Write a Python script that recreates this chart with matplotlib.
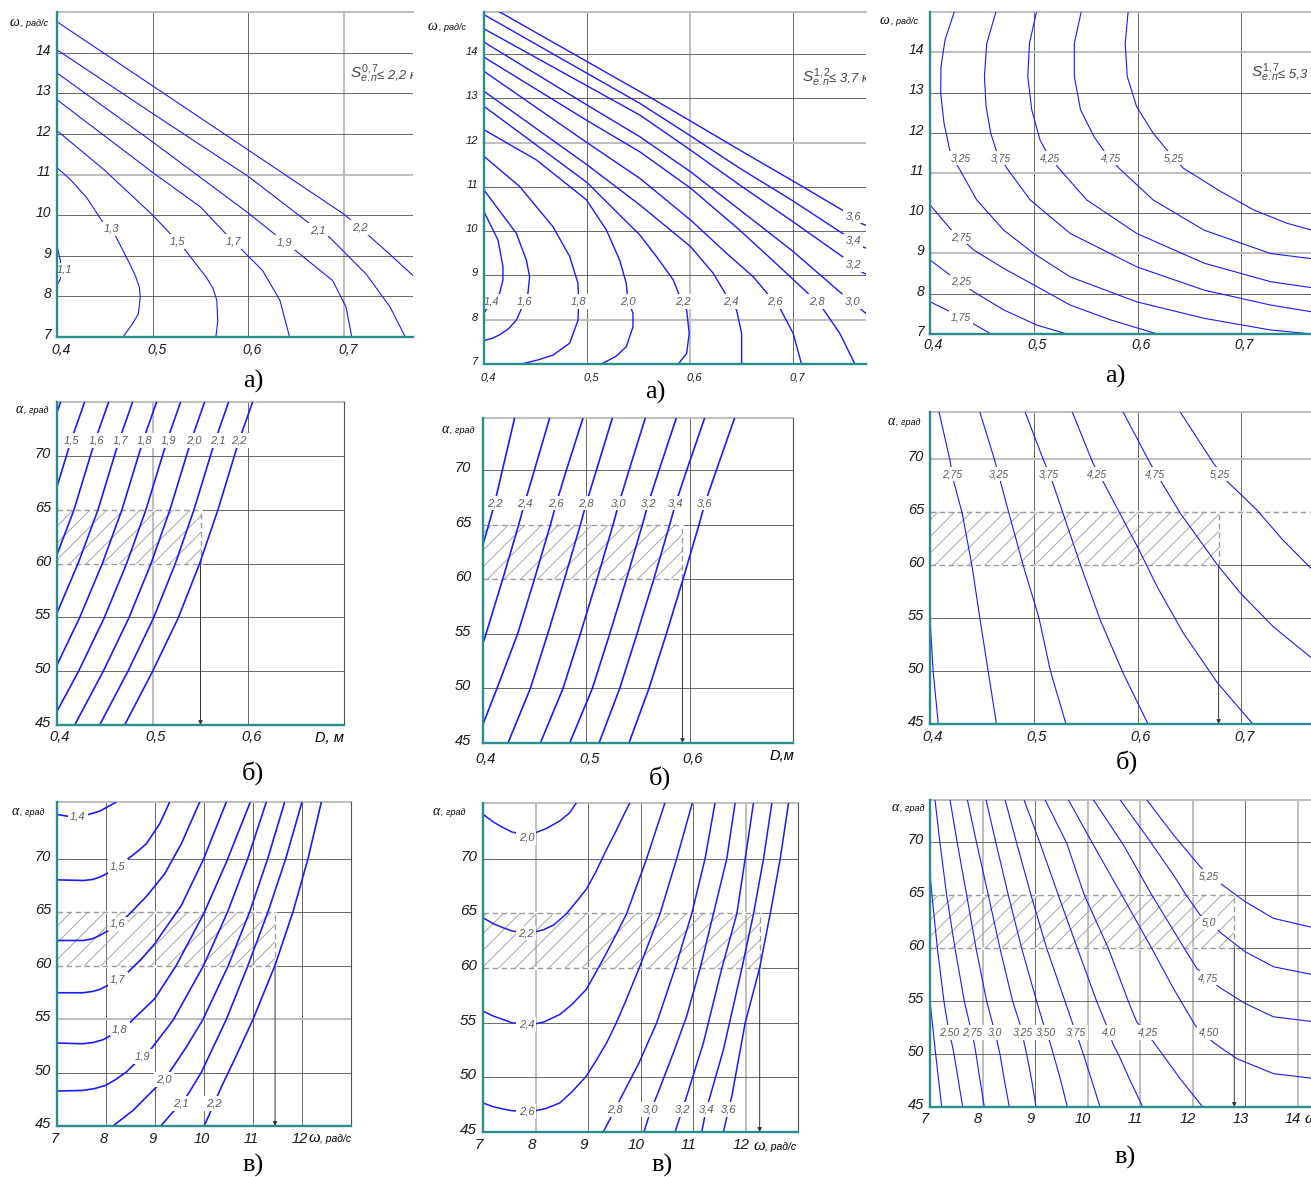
import matplotlib.pyplot as plt
from matplotlib.patches import Rectangle
from matplotlib.transforms import blended_transform_factory, Affine2D

W, H = 1311, 1177
BLUE = '#1a1aff'
TEAL = '#2a8c8c'
DARK = '#505050'
LIGHT = '#bfbfbf'
HATCH = '#9a9a9a'
TICK_FONT = ['Liberation Sans', 'DejaVu Sans']
LABEL_FONT = ['Liberation Sans Narrow', 'Liberation Sans', 'DejaVu Sans']
SERIF = ['Liberation Serif', 'DejaVu Serif']

plt.rcParams['hatch.linewidth'] = 0.6
plt.rcParams['hatch.color'] = HATCH
plt.rcParams['mathtext.fontset'] = 'custom'
plt.rcParams['mathtext.it'] = 'Liberation Sans:italic'
plt.rcParams['mathtext.rm'] = 'Liberation Sans'

# ---- shared ticks
d_ticks = [0.4, 0.5, 0.6, 0.7]
d_tick_labels = ['0,4', '0,5', '0,6', '0,7']
w_ticks = [7, 8, 9, 10, 11, 12, 13, 14]
w_tick_labels = ['7', '8', '9', '10', '11', '12', '13', '14']
a_ticks = [45, 50, 55, 60, 65, 70]
a_tick_labels = ['45', '50', '55', '60', '65', '70']

# ---- panel 1: omega(D), S <= 2,2
p1_levels = ['1,1', '1,3', '1,5', '1,7', '1,9', '2,1', '2,2']
p1_x = [
    [0.4, 0.4035, 0.4045, 0.4035, 0.4],
    [0.4, 0.415, 0.431, 0.448, 0.457, 0.462, 0.476, 0.482, 0.486, 0.487, 0.485, 0.479, 0.469],
    [0.4, 0.45, 0.5, 0.526, 0.533, 0.556, 0.563, 0.567, 0.568, 0.566],
    [0.4, 0.5, 0.55, 0.584, 0.591, 0.615, 0.633, 0.643],
    [0.4, 0.5, 0.6, 0.638, 0.647, 0.688, 0.702, 0.708],
    [0.4, 0.5, 0.6, 0.673, 0.685, 0.723, 0.748, 0.764],
    [0.4, 0.5, 0.6, 0.7, 0.716, 0.74, 0.775],
]
p1_y = [
    [9.25, 8.88, 8.63, 8.43, 8.27],
    [11.17, 10.85, 10.43, 9.82, 9.66, 9.45, 8.8, 8.5, 8.23, 7.98, 7.57, 7.33, 7.0],
    [12.08, 11.1, 10.0, 9.35, 9.17, 8.47, 8.2, 7.9, 7.4, 7.0],
    [12.84, 11.05, 10.2, 9.35, 9.2, 8.63, 7.9, 7.0],
    [13.5, 11.8, 10.05, 9.33, 9.17, 8.39, 7.74, 7.0],
    [14.07, 12.5, 10.95, 9.63, 9.45, 8.55, 7.74, 7.0],
    [14.76, 13.18, 11.6, 10.02, 9.7, 9.2, 8.45],
]
p1_lab_x = [0.4075, 0.457, 0.526, 0.584, 0.638, 0.673, 0.716]
p1_lab_y = [8.65, 9.66, 9.35, 9.35, 9.33, 9.63, 9.70]

# ---- panel 2: omega(D), S <= 3,7
p2_levels = ['1,4', '1,6', '1,8', '2,0', '2,2', '2,4', '2,6', '2,8', '3,0', '3,2', '3,4', '3,6']
p2_x = [
    [0.4, 0.4136, 0.4184, 0.4184, 0.4152, 0.4071, 0.4],
    [0.4, 0.4314, 0.4411, 0.4443, 0.4427, 0.4395, 0.4314, 0.424, 0.4152, 0.408, 0.4],
    [0.4, 0.4346, 0.467, 0.4832, 0.4913, 0.4919, 0.4913, 0.4832, 0.467, 0.452, 0.4362],
    [0.4, 0.4508, 0.4994, 0.5188, 0.5317, 0.5382, 0.5398, 0.5447, 0.5447, 0.5382, 0.528, 0.5139],
    [0.4, 0.5, 0.5515, 0.5677, 0.5838, 0.5903, 0.5929, 0.5968, 0.5993, 0.5968, 0.5887],
    [0.4, 0.5, 0.5515, 0.6007, 0.6226, 0.6362, 0.6395, 0.6453, 0.6502, 0.6502],
    [0.4, 0.5, 0.5515, 0.6007, 0.6356, 0.6615, 0.6777, 0.6825, 0.6874, 0.7003, 0.7084],
    [0.4, 0.5, 0.5515, 0.6007, 0.6485, 0.6906, 0.7181, 0.723, 0.7288, 0.7456, 0.7602],
    [0.4, 0.5, 0.5515, 0.6007, 0.6485, 0.7003, 0.7489, 0.7576, 0.765, 0.775],
    [0.4, 0.5515, 0.6007, 0.6485, 0.7003, 0.7521, 0.7586, 0.7667, 0.775],
    [0.4, 0.5515, 0.6007, 0.6485, 0.7003, 0.7521, 0.7586, 0.7667, 0.775],
    [0.41, 0.566, 0.6007, 0.6485, 0.7003, 0.7521, 0.7586, 0.7667, 0.775],
]
p2_y = [
    [10.44, 9.80, 9.20, 8.90, 8.60, 8.41, 8.15],
    [10.93, 9.95, 9.35, 8.97, 8.60, 8.41, 7.99, 7.80, 7.66, 7.58, 7.53],
    [11.69, 11.01, 10.10, 9.43, 8.82, 8.41, 7.99, 7.47, 7.20, 7.09, 7.0],
    [12.29, 11.61, 10.71, 10.03, 9.35, 8.82, 8.41, 8.15, 7.84, 7.39, 7.17, 7.0],
    [12.82, 11.1, 9.91, 9.42, 8.90, 8.52, 8.41, 8.22, 7.69, 7.24, 7.0],
    [13.16, 11.5, 10.59, 9.65, 9.05, 8.52, 8.41, 8.22, 7.69, 7.0],
    [13.61, 12.0, 11.19, 10.25, 9.50, 8.97, 8.52, 8.41, 8.26, 7.69, 7.0],
    [13.93, 12.5, 11.79, 10.97, 10.02, 9.12, 8.52, 8.41, 8.26, 7.69, 7.0],
    [14.27, 12.85, 12.13, 11.34, 10.48, 9.54, 8.56, 8.41, 8.26, 8.06],
    [14.57, 12.62, 11.83, 11.04, 10.21, 9.36, 9.25, 9.08, 8.98],
    [14.89, 12.885, 12.15, 11.42, 10.68, 9.89, 9.78, 9.65, 9.59],
    [15.02, 12.96, 12.485, 11.83, 11.13, 10.42, 10.34, 10.17, 10.10],
]
p2_lab_x = [0.407, 0.4395, 0.492, 0.5398, 0.5929, 0.6395, 0.6825, 0.723, 0.7576, 0.7586, 0.7586, 0.7586]
p2_lab_y = [8.41, 8.41, 8.41, 8.41, 8.41, 8.41, 8.41, 8.41, 8.41, 9.25, 9.78, 10.34]

# ---- panel 3: omega(D), S <= 5,3
p3_levels = ['1,75', '2,25', '2,75', '3,25', '3,75', '4,25', '4,75', '5,25']
p3_x = [
    [0.4, 0.419, 0.442, 0.459],
    [0.4, 0.419, 0.442, 0.471, 0.503, 0.532],
    [0.4, 0.419, 0.442, 0.471, 0.5, 0.535, 0.574, 0.619],
    [0.424, 0.4145, 0.4106, 0.4103, 0.4135, 0.419, 0.427, 0.445, 0.471, 0.5, 0.535, 0.599, 0.664, 0.728, 0.768],
    [0.464, 0.4547, 0.4524, 0.454, 0.4585, 0.4637, 0.474, 0.4965, 0.535, 0.599, 0.664, 0.728, 0.768],
    [0.503, 0.4958, 0.4942, 0.498, 0.506, 0.512, 0.524, 0.551, 0.599, 0.664, 0.728, 0.768],
    [0.546, 0.539, 0.539, 0.545, 0.558, 0.567, 0.582, 0.615, 0.664, 0.728, 0.768],
    [0.591, 0.588, 0.590, 0.599, 0.615, 0.627, 0.644, 0.680, 0.712, 0.744, 0.768],
]
p3_y = [
    [7.80, 7.56, 7.25, 7.0],
    [8.84, 8.47, 8.05, 7.60, 7.22, 7.0],
    [10.21, 9.63, 9.09, 8.63, 8.22, 7.72, 7.35, 7.0],
    [15.05, 14.31, 13.64, 12.98, 12.24, 11.57, 11.16, 10.33, 9.58, 9.0, 8.42, 7.80, 7.39, 7.10, 7.0],
    [15.05, 14.22, 13.40, 12.65, 11.99, 11.57, 11.12, 10.33, 9.50, 8.67, 8.09, 7.72, 7.55],
    [15.05, 14.22, 13.40, 12.57, 11.82, 11.53, 11.12, 10.33, 9.50, 8.76, 8.30, 8.15],
    [15.05, 14.22, 13.40, 12.57, 11.90, 11.57, 11.12, 10.33, 9.58, 9.0, 8.87],
    [15.05, 14.22, 13.40, 12.65, 11.99, 11.61, 11.12, 10.54, 10.08, 9.75, 9.58],
]
p3_lab_x = [0.430, 0.430, 0.430, 0.4295, 0.4685, 0.5158, 0.574, 0.635]
p3_lab_y = [7.41, 8.30, 9.40, 11.37, 11.37, 11.37, 11.37, 11.37]

# ---- panel 4: alpha(D), S <= 2,2
p4_levels = [None, '1,5', '1,6', '1,7', '1,8', '1,9', '2,0', '2,1', '2,2']
p4_x = [
    [0.4042, 0.3895, 0.3676],
    [0.4293, 0.4146, 0.3927, 0.371],
    [0.4544, 0.4397, 0.4178, 0.3965, 0.3718],
    [0.4794, 0.4648, 0.4429, 0.4220, 0.3976, 0.3711],
    [0.5045, 0.4899, 0.4679, 0.4474, 0.4233, 0.3969, 0.3662],
    [0.5296, 0.5150, 0.4930, 0.4728, 0.4491, 0.4226, 0.3923],
    [0.5547, 0.5401, 0.5181, 0.4983, 0.4749, 0.4484, 0.4185],
    [0.5798, 0.5652, 0.5432, 0.5237, 0.5007, 0.4742, 0.4446],
    [0.6049, 0.5902, 0.5683, 0.5491, 0.5265, 0.5000, 0.4707],
]
p4_y = [
    [75.1, 71.4, 65.0],
    [75.1, 71.4, 65.0, 60.0],
    [75.1, 71.4, 65.0, 60.0, 54.9],
    [75.1, 71.4, 65.0, 60.0, 54.9, 50.0],
    [75.1, 71.4, 65.0, 60.0, 54.9, 50.0, 45.0],
    [75.1, 71.4, 65.0, 60.0, 54.9, 50.0, 45.0],
    [75.1, 71.4, 65.0, 60.0, 54.9, 50.0, 45.0],
    [75.1, 71.4, 65.0, 60.0, 54.9, 50.0, 45.0],
    [75.1, 71.4, 65.0, 60.0, 54.9, 50.0, 45.0],
]
p4_lab_x = [None, 0.415, 0.441, 0.466, 0.4916, 0.517, 0.543, 0.568, 0.590]
p4_lab_y = [None, 71.44, 71.44, 71.44, 71.44, 71.44, 71.44, 71.44, 71.44]
p4_zone = [0.4, 0.55]

# ---- panel 5: alpha(D), S <= 3,7
p5_levels = ['2,2', '2,4', '2,6', '2,8', '3,0', '3,2', '3,4', '3,6']
p5_alpha = [74.8, 70.0, 67.0, 65.0, 60.0, 55.0, 50.0, 45.0]
p5_x = [
    [0.4306, 0.4187, 0.4113, 0.4055, 0.3900, 0.3739, 0.3571, 0.3365],
    [0.4645, 0.4497, 0.4403, 0.4345, 0.4190, 0.4029, 0.3861, 0.3655],
    [0.4968, 0.4806, 0.4710, 0.4652, 0.4497, 0.4335, 0.4135, 0.3929],
    [0.5252, 0.5097, 0.5000, 0.4942, 0.4787, 0.4626, 0.4458, 0.4242],
    [0.5571, 0.5413, 0.5316, 0.5258, 0.5103, 0.4942, 0.4774, 0.4555],
    [0.5871, 0.5703, 0.5600, 0.5542, 0.5387, 0.5226, 0.5058, 0.4839],
    [0.6145, 0.5971, 0.5865, 0.5806, 0.5652, 0.5490, 0.5323, 0.5123],
    [0.6435, 0.6258, 0.6148, 0.6090, 0.5935, 0.5774, 0.5606, 0.5413],
]
p5_lab_x = [0.4113, 0.4403, 0.4710, 0.5000, 0.5316, 0.5600, 0.5865, 0.6148]
p5_lab_y = [67.0, 67.0, 67.0, 67.0, 67.0, 67.0, 67.0, 67.0]
p5_zone = [0.4, 0.593]

# ---- panel 6: alpha(D), S <= 5,3
p6_levels = [None, '2,75', '3,25', '3,75', '4,25', '4,75', '5,25']
p6_x = [
    [0.399, 0.4, 0.403, 0.408],
    [0.4087, 0.419, 0.423, 0.431, 0.4405, 0.448, 0.456, 0.464],
    [0.448, 0.462, 0.468, 0.476, 0.490, 0.505, 0.516, 0.531],
    [0.4916, 0.509, 0.518, 0.545, 0.564, 0.586, 0.610],
    [0.537, 0.557, 0.567, 0.600, 0.619, 0.644, 0.677, 0.711],
    [0.586, 0.612, 0.623, 0.641, 0.677, 0.699, 0.731, 0.768],
    [0.641, 0.673, 0.687, 0.715, 0.740, 0.768],
]
p6_y = [
    [56.0, 55.0, 50.0, 45.0],
    [74.45, 70.0, 67.83, 64.9, 59.9, 55.0, 50.0, 45.0],
    [74.45, 70.0, 67.83, 64.9, 59.9, 55.0, 50.0, 45.0],
    [74.45, 70.0, 67.83, 60.0, 54.81, 49.81, 45.0],
    [74.45, 69.62, 67.83, 61.70, 57.92, 53.58, 48.87, 45.0],
    [74.45, 69.62, 67.83, 64.9, 60.0, 57.36, 54.15, 51.2],
    [74.45, 69.62, 67.83, 65.19, 62.36, 59.6],
]
p6_lab_x = [None, 0.421, 0.466, 0.514, 0.561, 0.617, 0.679]
p6_lab_y = [None, 68.58, 68.58, 68.58, 68.58, 68.58, 68.58]
p6_zone = [0.4, 0.678]

# ---- panel 7: alpha(omega), S <= 2,2
p7_levels = ['1,4', '1,5', '1,6', '1,7', '1,8', '1,9', '2,0', '2,1', '2,2']
p7_x = [
    [7.0, 7.259, 7.429, 7.565, 7.871, 8.211],
    [7.0, 7.531, 7.72, 7.871, 8.06, 8.245, 8.449, 8.65, 8.823, 9.095, 9.299],
    [7.0, 7.531, 7.72, 7.871, 8.06, 8.245, 8.449, 8.823, 9.197, 9.537, 9.912],
    [7.0, 7.531, 7.72, 7.871, 8.06, 8.245, 8.449, 8.72, 8.993, 9.537, 9.993, 10.456],
    [7.0, 7.531, 7.75, 7.939, 8.11, 8.279, 8.483, 8.993, 9.435, 9.993, 10.456, 10.946],
    [7.0, 7.531, 7.77, 7.993, 8.2, 8.415, 8.741, 8.925, 9.367, 9.993, 10.483, 10.891, 11.272],
    [8.143, 8.551, 8.959, 9.184, 9.299, 9.639, 9.980, 10.497, 10.932, 11.299, 11.646],
    [9.116, 9.367, 9.537, 9.639, 9.946, 10.456, 10.898, 11.306, 11.667, 12.0],
    [10.0, 10.102, 10.204, 10.354, 10.646, 11.0, 11.449, 11.816, 12.122, 12.395],
]
p7_y = [
    [74.13, 73.94, 73.94, 74.03, 74.44, 75.3],
    [68.02, 67.96, 68.05, 68.27, 68.7, 69.27, 69.98, 70.7, 71.39, 73.26, 75.3],
    [62.35, 62.35, 62.5, 62.82, 63.3, 63.91, 64.69, 66.46, 68.58, 71.39, 75.3],
    [57.46, 57.46, 57.58, 57.77, 58.2, 58.68, 59.39, 60.6, 62.04, 65.62, 69.98, 75.3],
    [52.76, 52.69, 52.82, 53.07, 53.5, 54.07, 54.66, 56.90, 60.02, 64.84, 69.67, 75.3],
    [48.27, 48.33, 48.5, 48.80, 49.35, 50.05, 51.51, 52.23, 54.88, 60.02, 65.03, 69.98, 75.3],
    [45.0, 46.46, 48.33, 49.33, 50.05, 52.38, 54.97, 60.02, 65.03, 69.98, 75.3],
    [45.0, 46.31, 47.09, 47.71, 50.02, 54.97, 60.02, 65.03, 69.98, 75.3],
    [45.0, 46.0, 47.09, 48.64, 51.45, 54.97, 60.02, 65.03, 69.98, 75.3],
]
p7_lab_x = [7.429, 8.245, 8.245, 8.245, 8.279, 8.741, 9.184, 9.537, 10.204]
p7_lab_y = [73.94, 69.27, 63.91, 58.68, 54.07, 51.51, 49.33, 47.09, 47.09]
p7_zone = [7.0, 11.45]

# ---- panel 8: alpha(omega), S <= 3,7
p8_levels = ['2,0', '2,2', '2,4', '2,6', '2,8', '3,0', '3,2', '3,4', '3,6']
p8_x = [
    [7.0, 7.2, 7.382, 7.55, 7.75, 7.95, 8.2, 8.463, 8.65, 8.781],
    [7.0, 7.2, 7.382, 7.55, 7.75, 7.95, 8.15, 8.35, 8.59, 8.8, 8.966, 9.15, 9.354, 9.52, 9.672, 9.799],
    [7.0, 7.2, 7.382, 7.55, 7.75, 7.95, 8.15, 8.463, 8.7, 8.966, 9.15, 9.354, 9.55, 9.735, 10.117, 10.467],
    [7.0, 7.2, 7.382, 7.55, 7.75, 7.95, 8.2, 8.463, 8.7, 8.966, 9.15, 9.354, 9.53, 9.704, 9.971, 10.372, 10.69, 10.989],
    [9.290, 9.513, 9.608, 9.971, 10.308, 10.658, 10.976, 11.230, 11.421],
    [10.066, 10.200, 10.308, 10.626, 10.880, 11.135, 11.389, 11.644, 11.803],
    [10.658, 10.798, 10.880, 11.198, 11.548, 11.835, 11.994, 12.153],
    [11.167, 11.249, 11.326, 11.580, 11.930, 12.153, 12.344, 12.503],
    [11.580, 11.676, 11.739, 11.994, 12.267, 12.471, 12.662, 12.821],
]
p8_y = [
    [74.07, 73.35, 72.85, 72.45, 72.25, 72.3, 72.75, 73.46, 74.2, 75.14],
    [64.6, 64.05, 63.69, 63.4, 63.25, 63.25, 63.5, 63.95, 64.97, 66.2, 67.2, 68.8, 70.86, 72.4, 73.92, 75.14],
    [56.05, 55.6, 55.29, 55.0, 54.85, 54.85, 55.05, 55.75, 56.7, 58.04, 59.6, 61.4, 63.2, 64.97, 70.01, 75.14],
    [47.66, 47.3, 47.1, 46.95, 46.88, 46.9, 47.15, 47.66, 48.7, 50.10, 51.5, 53.15, 54.9, 56.82, 59.96, 64.97, 70.01, 75.14],
    [45.0, 47.05, 47.96, 51.32, 54.98, 59.96, 64.97, 70.01, 75.14],
    [45.0, 47.05, 48.27, 52.24, 55.60, 59.96, 64.97, 70.01, 75.14],
    [45.0, 47.05, 48.27, 53.15, 59.96, 64.97, 70.01, 75.14],
    [45.0, 47.05, 48.27, 52.54, 59.96, 64.97, 70.01, 75.14],
    [45.0, 47.05, 48.27, 54.98, 59.96, 64.97, 70.01, 75.14],
]
p8_lab_x = [7.827, 7.814, 7.827, 7.827, 9.513, 10.200, 10.798, 11.249, 11.676]
p8_lab_y = [71.93, 63.2, 54.83, 46.89, 47.05, 47.05, 47.05, 47.05, 47.05]
p8_zone = [7.0, 12.27]

# ---- panel 9: alpha(omega), S <= 5,3
p9_levels = [None, '2,50', '2,75', '3,0', '3,25', '3,50', '3,75', '4,0', '4,25', '4,50', '4,75', '5,0', '5,25']
p9_rows = [74.02, 69.92, 65.0, 59.98, 54.97, 52.03, 51.09, 49.98, 47.52, 45.0]
p9_x = [
    [6.905, 7.0, 7.108, 7.222],
    [6.99, 7.0, 7.038, 7.140, 7.266, 7.362, 7.412, 7.457, 7.539, 7.622],
    [7.095, 7.190, 7.317, 7.476, 7.654, 7.793, 7.838, 7.876, 7.952, 8.034],
    [7.381, 7.520, 7.698, 7.876, 8.079, 8.237, 8.282, 8.332, 8.415, 8.510],
    [7.711, 7.888, 8.110, 8.332, 8.574, 8.764, 8.789, 8.840, 8.935, 9.018],
    [8.066, 8.256, 8.491, 8.745, 9.030, 9.208, 9.284, 9.348, 9.487, 9.614],
    [8.428, 8.650, 8.923, 9.221, 9.570, 9.773, 9.843, 9.919, 10.077, 10.236],
    [8.789, 9.094, 9.443, 9.805, 10.173, 10.414, 10.477, 10.585, 10.807, 11.048],
    [9.189, 9.602, 9.938, 10.395, 10.775, 10.934, 11.093, 11.251, 11.759, 12.190],
    [9.633, 10.109, 10.649, 11.220, 11.632, 12.044, 12.216, 12.393, 12.838, 13.536, 14.26],
    [10.109, 10.680, 11.220, 11.841, 12.076, 12.298, 12.520, 12.996, 13.536, 14.26],
    [10.617, 11.124, 11.632, 11.873, 12.140, 12.362, 12.520, 12.996, 13.536, 14.26],
    [11.124, 11.632, 12.140, 12.330, 12.520, 12.996, 13.536, 14.26],
]
p9_y = [
    [59.98, 54.97, 49.98, 45.0],
    [68.0, 67.08, 65.0, 59.98, 54.97, 52.03, 51.09, 49.98, 47.52, 45.0],
    p9_rows, p9_rows, p9_rows, p9_rows, p9_rows,
    [74.02, 69.92, 65.0, 59.98, 54.97, 52.03, 50.99, 49.98, 47.52, 45.0],
    [74.02, 69.92, 65.0, 59.98, 54.97, 53.04, 52.1, 51.15, 47.68, 45.0],
    [74.02, 69.76, 65.03, 59.98, 56.20, 52.73, 51.91, 51.09, 49.57, 48.15, 47.72],
    [74.02, 69.76, 65.03, 59.98, 58.09, 57.15, 56.26, 54.78, 53.52, 53.08],
    [74.02, 70.55, 66.92, 65.03, 63.14, 62.35, 61.50, 59.67, 58.25, 57.52],
    [74.02, 70.71, 67.71, 66.77, 66.14, 64.40, 62.82, 61.98],
]
p9_lab_x = [None, 7.362, 7.793, 8.237, 8.764, 9.208, 9.773, 10.414, 11.15, 12.317, 12.298, 12.317, 12.298]
p9_lab_y = [None, 52.03, 52.03, 52.03, 52.03, 52.03, 52.03, 52.03, 52.03, 52.03, 57.15, 62.41, 66.77]
p9_zone = [7.0, 12.79]

fig = plt.figure(figsize=(W / 100, H / 100), dpi=100)
fig.patch.set_facecolor('white')


def axes_at(l, t, r, b):
    return fig.add_axes([l / W, 1 - b / H, (r - l) / W, (b - t) / H])


def px_text(px, py, s, **kw):
    fig.text(px / W, 1 - py / H, s, **kw)


def frame(ax, xlim, ylim, xgrid, ygrid, light=(), right=False):
    ax.set_xlim(xlim)
    ax.set_ylim(ylim)
    ax.set_xticks([])
    ax.set_yticks([])
    ax.spines[['top', 'right']].set_visible(False)
    for side in ('left', 'bottom'):
        ax.spines[side].set_color(TEAL)
        ax.spines[side].set_linewidth(1.7)
        ax.spines[side].set_zorder(6)
    for v in xgrid:
        lt = ('x', v) in light
        ax.axvline(v, color=LIGHT if lt else DARK, lw=1.5 if lt else 0.6, zorder=1)
    for v in ygrid:
        lt = ('y', v) in light
        ax.axhline(v, color=LIGHT if lt else DARK, lw=1.5 if lt else 0.6, zorder=1)
    ax.axhline(ylim[1], color=LIGHT, lw=1.5, zorder=1, clip_on=False)
    if right:
        ax.axvline(xlim[1], color=DARK, lw=0.8, zorder=1, clip_on=False)


def tick_text(ax, xs, xl, ys, yl, size, dx=3, xgap=6, ygap=6):
    tx = blended_transform_factory(ax.transData, ax.transAxes) + Affine2D().translate(dx, -xgap)
    for v, s in zip(xs, xl):
        ax.text(v, 0, s, transform=tx, ha='center', va='top', fontsize=size,
                style='italic', family=TICK_FONT, color='#1a1a1a', clip_on=False)
    ty = blended_transform_factory(ax.transAxes, ax.transData) + Affine2D().translate(-ygap, 2)
    for v, s in zip(ys, yl):
        ax.text(0, v, s, transform=ty, ha='right', va='center', fontsize=size,
                style='italic', family=TICK_FONT, color='#1a1a1a', clip_on=False)


def draw_curves(ax, xs, ys, levels, lx, ly, lw, size=8):
    for x, y in zip(xs, ys):
        ax.plot(x, y, color=BLUE, lw=lw, zorder=3, solid_capstyle='butt')
    for s, x, y in zip(levels, lx, ly):
        if s is None:
            continue
        ax.text(x, y, s, ha='center', va='center', fontsize=size, style='italic',
                color='#5a5a5a', family=LABEL_FONT, zorder=4,
                bbox=dict(boxstyle='square,pad=0.2', fc='white', ec='none'))


def zone(ax, x0, x1, y0=60, y1=65, ext=None):
    dash = (0, (4, 2.5))
    ax.plot([x0, x1], [y0, y0], color='white', lw=2, zorder=1.5)
    ax.plot([x0, x1], [y1, y1], color='white', lw=2, zorder=1.5)
    ax.add_patch(Rectangle((x0, y0), x1 - x0, y1 - y0, fill=False, hatch='//',
                           edgecolor=HATCH, lw=0, zorder=2))
    ax.plot([x0, x1], [y0, y0], ls=dash, color=HATCH, lw=1.0, zorder=2)
    ax.plot([x0, x1], [y1, y1], ls=dash, color=HATCH, lw=1.0, zorder=2)
    ax.plot([x1, x1], [y0, y1], ls=dash, color=HATCH, lw=1.0, zorder=2)
    if ext is not None:
        ax.plot([x1, ext], [y1, y1], color='white', lw=2, zorder=1.5)
        ax.plot([x1, ext], [y1, y1], ls=dash, color=HATCH, lw=1.0, zorder=2)
    ax.annotate('', xy=(x1, ax.get_ylim()[0]), xytext=(x1, y0), zorder=2,
                arrowprops=dict(arrowstyle='-|>', color='#333333', lw=0.7,
                                mutation_scale=6, shrinkA=0, shrinkB=0))


def limit_text(ax, x, y, sup, value):
    ax.text(x, y, r'$S_{е.п}^{%s}$' % sup, fontsize=11, color='#444444',
            va='baseline', clip_on=True, zorder=4)
    t = ax.transData + Affine2D().translate(27, 0)
    ax.text(x, y, '≤ ' + value + ' кг', transform=t, fontsize=9.5, style='italic',
            family=TICK_FONT, color='#444444', va='baseline', clip_on=True, zorder=4)


def axis_name(px, py, greek, unit, gsize=10, usize=6.5, gap=11):
    px_text(px, py, greek, fontsize=gsize, style='italic', family=SERIF, va='baseline')
    px_text(px + gap, py, unit, fontsize=usize, style='italic', family=TICK_FONT, va='baseline')


# ---- panel 1
ax = axes_at(57, 12, 413, 337)
frame(ax, (0.4, 0.772), (7, 15), [0.5, 0.6, 0.7], [8, 9, 10, 11, 12, 13, 14],
      light=[('x', 0.7), ('y', 11)])
tick_text(ax, d_ticks, d_tick_labels, w_ticks, w_tick_labels, 10, dx=4, xgap=6)
draw_curves(ax, p1_x, p1_y, p1_levels, p1_lab_x, p1_lab_y, 0.8)
limit_text(ax, 0.706, 13.37, '0,7', '2,2')
axis_name(10, 26, 'ω', ', рад/с')

# ---- panel 2
ax = axes_at(484, 12, 866, 364)
frame(ax, (0.4, 0.771), (7, 14.95), [0.5, 0.6, 0.7], [8, 9, 10, 11, 12, 13, 14],
      light=[('x', 0.6), ('y', 8), ('y', 12)])
tick_text(ax, d_ticks, d_tick_labels, w_ticks, w_tick_labels, 8, dx=4, xgap=9)
draw_curves(ax, p2_x, p2_y, p2_levels, p2_lab_x, p2_lab_y, 1.0)
limit_text(ax, 0.709, 13.37, '1,2', '3,7')
axis_name(428, 30, 'ω', ', рад/с')

# ---- panel 3
ax = axes_at(930, 12, 1311, 334)
frame(ax, (0.4, 0.767), (7, 15), [0.5, 0.6, 0.7], [8, 9, 10, 11, 12, 13, 14],
      light=[('y', 9), ('y', 11), ('y', 14)])
tick_text(ax, d_ticks, d_tick_labels, w_ticks, w_tick_labels, 10, dx=3, xgap=4)
draw_curves(ax, p3_x, p3_y, p3_levels, p3_lab_x, p3_lab_y, 0.8, size=7.5)
limit_text(ax, 0.709, 13.38, '1,7', '5,3')
axis_name(880, 24, 'ω', ', рад/с')

# ---- panel 4
ax = axes_at(57, 402, 344, 725)
frame(ax, (0.4, 0.7), (45, 75), [0.5, 0.6], [50, 55, 60, 65, 70],
      light=[('x', 0.5)], right=True)
tick_text(ax, d_ticks[:3], d_tick_labels[:3], a_ticks, a_tick_labels, 10.5, dx=3, xgap=5)
draw_curves(ax, p4_x, p4_y, p4_levels, p4_lab_x, p4_lab_y, 1.2)
zone(ax, *p4_zone)
axis_name(16, 413, 'α', ', град', gap=8)
px_text(315, 742, 'D, м', fontsize=10.5, style='italic', family=TICK_FONT, va='baseline')

# ---- panel 5
ax = axes_at(483, 418, 793, 743)
frame(ax, (0.4, 0.7), (45, 74.8), [0.5, 0.6], [50, 55, 60, 65, 70], right=True)
tick_text(ax, d_ticks[:3], d_tick_labels[:3], a_ticks, a_tick_labels, 10.5, dx=3, xgap=9, ygap=12)
draw_curves(ax, p5_x, [p5_alpha] * len(p5_x), p5_levels, p5_lab_x, p5_lab_y, 1.2)
zone(ax, *p5_zone)
axis_name(442, 433, 'α', ', град', gap=8)
px_text(770, 760, 'D,м', fontsize=10.5, style='italic', family=TICK_FONT, va='baseline')

# ---- panel 6
ax = axes_at(930, 412, 1311, 724)
frame(ax, (0.4, 0.767), (45, 74.45), [0.5, 0.6, 0.7], [50, 55, 60, 65, 70],
      light=[('y', 70), ('y', 65)])
tick_text(ax, d_ticks, d_tick_labels, a_ticks, a_tick_labels, 10.5, dx=3, xgap=6)
draw_curves(ax, p6_x, p6_y, p6_levels, p6_lab_x, p6_lab_y, 0.8, size=7.5)
zone(ax, *p6_zone, ext=0.767)
axis_name(888, 425, 'α', ', град', gap=8)

# ---- panel 7
ax = axes_at(57, 802, 351, 1126)
frame(ax, (7, 13), (45, 75.3), [8, 9, 10, 11, 12], [50, 55, 60, 65, 70],
      light=[('y', 55)], right=True)
tick_text(ax, w_ticks[:6], w_tick_labels[:6], a_ticks, a_tick_labels, 10.5, dx=-2, xgap=6)
draw_curves(ax, p7_x, p7_y, p7_levels, p7_lab_x, p7_lab_y, 1.2)
zone(ax, *p7_zone)
axis_name(12, 815, 'α', ', град', gap=8)
axis_name(308, 1142, 'ω', ', рад/с', gsize=12, usize=7.5, gap=12)

# ---- panel 8
ax = axes_at(483, 803, 798, 1132)
frame(ax, (7, 13), (45, 75.1), [8, 9, 10, 11, 12], [50, 55, 60, 65, 70],
      light=[('x', 8), ('x', 12)], right=True)
tick_text(ax, w_ticks[:6], w_tick_labels[:6], a_ticks, a_tick_labels, 11, dx=-4, xgap=6)
draw_curves(ax, p8_x, p8_y, p8_levels, p8_lab_x, p8_lab_y, 1.1)
zone(ax, *p8_zone)
axis_name(433, 815, 'α', ', град', gap=8)
axis_name(753, 1150, 'ω', ', рад/с', gsize=12, usize=7.5, gap=12)

# ---- panel 9
ax = axes_at(930, 800, 1311, 1107)
frame(ax, (7, 14.25), (45, 74.0), [8, 9, 10, 11, 12, 13, 14], [50, 55, 60, 65, 70],
      light=[('x', 8), ('x', 10), ('x', 11), ('x', 12), ('x', 14)])
tick_text(ax, w_ticks, w_tick_labels, a_ticks, a_tick_labels, 10.5, dx=-5, xgap=5)
draw_curves(ax, p9_x, p9_y, p9_levels, p9_lab_x, p9_lab_y, 0.8, size=7.5)
zone(ax, *p9_zone)
axis_name(892, 811, 'α', ', град', gap=8)
px_text(1304, 1123, 'ω', fontsize=12, style='italic', family=SERIF, va='baseline')

# ---- captions
for cx, cy, s in [(253, 381, 'а)'), (655, 392, 'а)'), (1115, 376, 'а)'),
                  (253, 773, 'б)'), (660, 778, 'б)'), (1127, 762, 'б)'),
                  (253, 1165, 'в)'), (662, 1165, 'в)'), (1125, 1157, 'в)')]:
    px_text(cx, cy, s, fontsize=19, family=SERIF, ha='center', va='center')

fig.savefig('out.png', dpi=100, facecolor='white')
